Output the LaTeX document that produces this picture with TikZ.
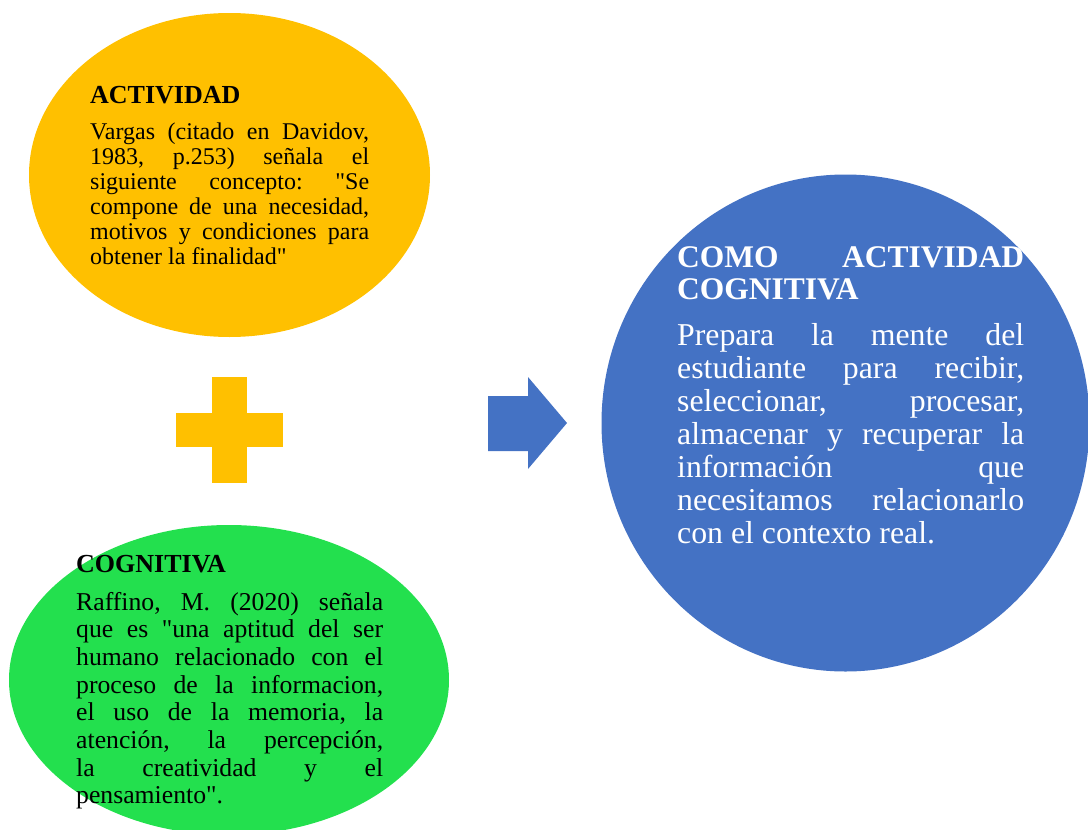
\documentclass[tikz,border=0pt]{standalone}
\usepackage{fontspec}
\setmainfont{Liberation Serif}
\usetikzlibrary{shapes.geometric}
\usetikzlibrary{positioning}
\definecolor{actyellow}{HTML}{FFC000}
\definecolor{coggreen}{HTML}{23E04E}
\definecolor{resblue}{HTML}{4472C4}
\tolerance=10000
\hbadness=10000
\frenchspacing

\begin{document}
\begin{tikzpicture}
    [
    x=1pt, y=-1pt,
    blob/.style={ellipse,inner sep=0pt},
    txt/.style={anchor=base west,inner sep=0pt,align=justify,text width=#1},
    ]
    \useasboundingbox (0,0) rectangle (1088,830);

    \node (y0) at (229.5,175) [blob, fill=actyellow, minimum width=401pt, minimum height=324pt] {};
    \node (g0) at (229,680) [blob, fill=coggreen, minimum width=440pt, minimum height=310pt] {};
    \node (b0) at (845.5,423) [blob, fill=resblue, minimum width=488pt, minimum height=497pt] {};

    % plus and arrow
    \fill [actyellow] (176,413) rectangle (283,447);
    \fill [actyellow] (212,377) rectangle (247,483);
    \fill [resblue] (488,396) -- (528,396) -- (528,377) -- (567,423)
      -- (528,469) -- (528,451) -- (488,451) -- cycle;

    \node (y1) at (90,103) [txt=279pt, font=\bfseries\fontsize{26}{27}\selectfont] {ACTIVIDAD};
    \node (y2) [below=36pt of y1.base west, txt=279pt, font=\fontsize{24}{25}\selectfont]
      {Vargas (citado en Davidov,\linebreak 1983, p.253) señala el\linebreak
       siguiente concepto: \textquotedbl Se\linebreak compone de una necesidad,\linebreak
       motivos y condiciones para\linebreak obtener la finalidad\textquotedbl};

    \node (g1) at (76,572) [txt=307pt, font=\bfseries\fontsize{26}{27}\selectfont] {COGNITIVA};
    \node (g2) [below=38pt of g1.base west, txt=307pt, font=\fontsize{25.7}{27.7}\selectfont]
      {Raffino, M. (2020) señala\linebreak que es \textquotedbl una aptitud del ser\linebreak
       humano relacionado con el\linebreak proceso de la informacion,\linebreak
       el uso de la memoria, la\linebreak atención, la percepción,\linebreak
       la creatividad y el\linebreak pensamiento\textquotedbl.};

    \node (b1) at (677,267) [txt=347pt, text=white, font=\bfseries\fontsize{31.5}{32.6}\selectfont]
      {COMO ACTIVIDAD\linebreak COGNITIVA};
    \node (b2) [below=78pt of b1.base west, txt=347pt, text=white, font=\fontsize{31.8}{33}\selectfont]
      {Prepara la mente del\linebreak estudiante para recibir,\linebreak
       seleccionar, procesar,\linebreak almacenar y recuperar la\linebreak
       información que\linebreak necesitamos relacionarlo\linebreak
       con el contexto real.};
  \end{tikzpicture}
\end{document}
